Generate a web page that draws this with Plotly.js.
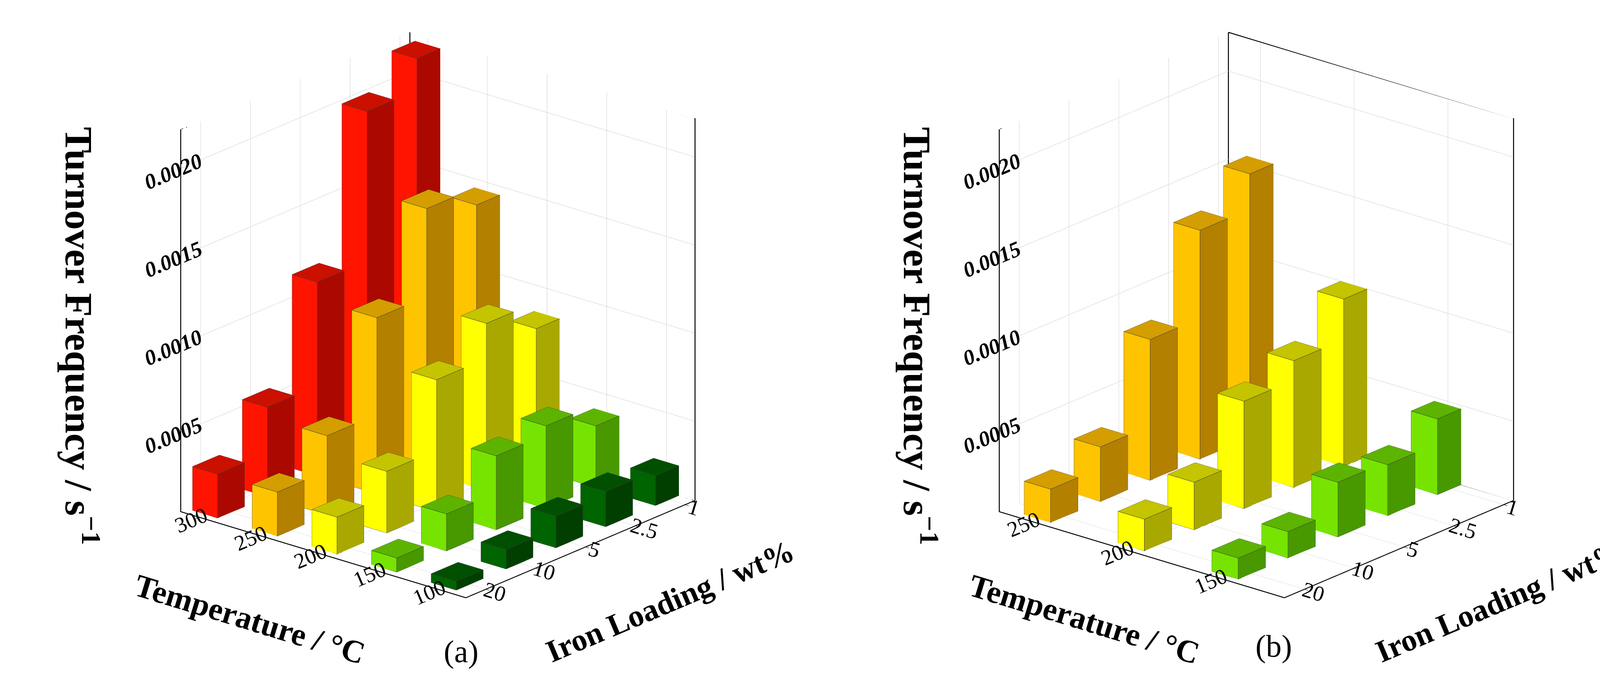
<!DOCTYPE html>
<html><head><meta charset="utf-8">
<script src="https://cdn.plot.ly/plotly-3.0.1.min.js"></script>
<style>html,body{margin:0;padding:0;background:#fff}#chart{width:4183px;height:1792px}</style>
</head><body><div id="chart"></div>
<script>
// ---------- data ----------
const ironLabels = ['1', '2.5', '5', '10', '20'];
const tempsA = [300, 250, 200, 150, 100];
const tofA300 = [0.00218, 0.00200, 0.00115, 0.00056, 0.00030];
const tofA250 = [0.00145, 0.00155, 0.00105, 0.00050, 0.00030];
const tofA200 = [0.00085, 0.00100, 0.00080, 0.00040, 0.00026];
const tofA150 = [0.00040, 0.00052, 0.00047, 0.00026, 0.00013];
const tofA100 = [0.00022, 0.00025, 0.00023, 0.00016, 0.00010];
const tempsB = [250, 200, 150];
const tofB250 = [0.00155, 0.00135, 0.00085, 0.00036, 0.00024];
const tofB200 = [0.00100, 0.00077, 0.00066, 0.00032, 0.00023];
const tofB150 = [0.00048, 0.00034, 0.00036, 0.00020, 0.00017];
const zTicks = [0.0005, 0.0010, 0.0015, 0.0020];
const zTickText = ['0.0005', '0.0010', '0.0015', '0.0020'];
const titleZ = 'Turnover Frequency / s<sup>−1</sup>';
const titleT = 'Temperature / °C';
const titleFe = 'Iron Loading / wt%';

// ---------- styles ----------
const palette = {
  300: {front: '#ff1400', side: '#ab0900', top: '#cc1000'},
  250: {front: '#ffc400', side: '#b38000', top: '#d49e00'},
  200: {front: '#ffff00', side: '#a8a800', top: '#c4c400'},
  150: {front: '#76e400', side: '#489800', top: '#5cb400'},
  100: {front: '#006400', side: '#003f00', top: '#005000'}
};
const zBase = 0.00005, zTop = 0.00222;
const serif = 'Liberation Serif';

function buildScene(temps, rows, barWx, barWy, sceneId) {
  const traces = [];
  const ex = [], ey = [], ez = [];
  temps.forEach((t, ti) => {
    const vals = rows[ti];
    const c = palette[t];
    const X = [], Y = [], Z = [], I = [], J = [], K = [], FC = [];
    vals.forEach((v, fi) => {
      const x0 = t - barWx / 2, x1 = t + barWx / 2;
      const y0 = fi - barWy / 2, y1 = fi + barWy / 2;
      const b = zBase, h = v;
      const o = X.length;
      const vx = [x0, x1, x1, x0, x0, x1, x1, x0];
      const vy = [y0, y0, y1, y1, y0, y0, y1, y1];
      const vz = [b, b, b, b, h, h, h, h];
      X.push(...vx); Y.push(...vy); Z.push(...vz);
      const faces = [
        [0, 1, 2, c.side], [0, 2, 3, c.side],
        [4, 5, 6, c.top], [4, 6, 7, c.top],
        [0, 1, 5, c.side], [0, 5, 4, c.side],
        [3, 2, 6, c.front], [3, 6, 7, c.front],
        [0, 3, 7, c.side], [0, 7, 4, c.side],
        [1, 2, 6, c.side], [1, 6, 5, c.side]
      ];
      faces.forEach(f => { I.push(o + f[0]); J.push(o + f[1]); K.push(o + f[2]); FC.push(f[3]); });
      const edges = [[0,1],[1,2],[2,3],[3,0],[4,5],[5,6],[6,7],[7,4],[0,4],[1,5],[2,6],[3,7]];
      edges.forEach(e => {
        ex.push(vx[e[0]], vx[e[1]], null);
        ey.push(vy[e[0]], vy[e[1]], null);
        ez.push(vz[e[0]], vz[e[1]], null);
      });
    });
    traces.push({
      type: 'mesh3d', scene: sceneId, x: X, y: Y, z: Z, i: I, j: J, k: K,
      facecolor: FC, flatshading: true, hoverinfo: 'skip', showscale: false,
      lighting: {ambient: 1, diffuse: 0, specular: 0, roughness: 1, fresnel: 0}
    });
  });
  traces.push({
    type: 'scatter3d', mode: 'lines', scene: sceneId, x: ex, y: ey, z: ez,
    line: {color: '#3a3a3a', width: 2}, connectgaps: false, hoverinfo: 'skip', showlegend: false
  });
  return traces;
}

function frameTrace(xr, yr, sceneId) {
  const xh = xr[1], xl = xr[0], yh = yr[1], yl = yr[0];
  return {
    type: 'scatter3d', mode: 'lines', scene: sceneId, hoverinfo: 'skip', showlegend: false,
    x: [xh, xh, xh, xl, xl, null, xh, xh, null, xh, xl],
    y: [yh, yh, yl, yl, yl, null, yl, yl, null, yl, yl],
    z: [zBase, zTop, zTop, zTop, zBase, null, zTop, zBase, null, zBase, zBase],
    line: {color: '#000', width: 5}
  };
}

const xrA = [76, 315], yrA = [-0.2, 4.4];
const xrB = [115, 267], yrB = [-0.2, 4.4];

const traces = [
  ...buildScene(tempsA, [tofA300, tofA250, tofA200, tofA150, tofA100], 21, 0.54, 'scene'),
  frameTrace(xrA, yrA, 'scene'),
  ...buildScene(tempsB, [tofB250, tofB200, tofB150], 14, 0.55, 'scene2'),
  frameTrace(xrB, yrB, 'scene2')
];

function axisCommon() {
  return {
    showbackground: false, showgrid: true, gridcolor: '#cfcfcf', gridwidth: 2,
    showline: true, linecolor: '#000', linewidth: 5, zeroline: false,
    ticks: 'outside', tickcolor: '#000', ticklen: 12, tickwidth: 3,
    showspikes: false, color: '#000', title: {text: ''}
  };
}
const eyeDir = {x: -0.602, y: 0.714, z: 0.358};
const camDist = 2.2;
function sceneLayout(temps, xr, yr, domainX, domainY, zoom) {
  return {
    domain: {x: domainX, y: domainY},
    xaxis: Object.assign(axisCommon(), {
      range: xr, tickvals: temps, ticktext: temps.map(String),
      tickfont: {family: serif, size: 26, color: '#000'}
    }),
    yaxis: Object.assign(axisCommon(), {
      range: yr, tickvals: [0, 1, 2, 3, 4], ticktext: ironLabels,
      tickfont: {family: serif, size: 26, color: '#000'}
    }),
    zaxis: Object.assign(axisCommon(), {
      range: [zBase, zTop], tickvals: zTicks, ticktext: zTickText,
      tickfont: {family: serif, size: 26, color: '#000', weight: 'bold', style: 'italic'}
    }),
    aspectmode: 'manual', aspectratio: {x: zoom, y: 0.953 * zoom, z: 1.097 * zoom},
    camera: {eye: {x: eyeDir.x * camDist, y: eyeDir.y * camDist, z: eyeDir.z * camDist},
             center: {x: 0, y: 0, z: 0}, up: {x: 0, y: 0, z: 1},
             projection: {type: 'orthographic'}}
  };
}

function titleAnn(text, x, y, angle, size) {
  return {text: text, x: x, y: y, xref: 'paper', yref: 'paper', showarrow: false,
          textangle: angle, xanchor: 'center', yanchor: 'middle',
          font: {family: serif, size: size, color: '#000', weight: 'bold'}};
}

const layout = {
  width: 4183, height: 1792, paper_bgcolor: '#fff', showlegend: false,
  margin: {l: 0, r: 0, t: 0, b: 0},
  scene: sceneLayout(tempsA, xrA, yrA, [0.038, 0.498], [0.1, 1], 1.184),
  scene2: sceneLayout(tempsB, xrB, yrB, [0.549, 0.989], [0.1, 1], 1.184),
  annotations: [
    titleAnn(titleZ, 0.050, 0.520, 90, 100),
    titleAnn(titleT, 0.153, 0.115, 17, 82),
    titleAnn(titleFe, 0.410, 0.141, -23, 80),
    titleAnn(titleZ, 0.563, 0.520, 90, 100),
    titleAnn(titleT, 0.6636, 0.115, 17, 82),
    titleAnn(titleFe, 0.918, 0.141, -23, 80),
    {text: '(a)', x: 0.271, y: 0.043, xref: 'paper', yref: 'paper', showarrow: false,
     font: {family: serif, size: 80, color: '#000'}},
    {text: '(b)', x: 0.791, y: 0.051, xref: 'paper', yref: 'paper', showarrow: false,
     font: {family: serif, size: 80, color: '#000'}}
  ]
};

Plotly.newPlot('chart', traces, layout, {displayModeBar: false});
</script>
</body></html>
